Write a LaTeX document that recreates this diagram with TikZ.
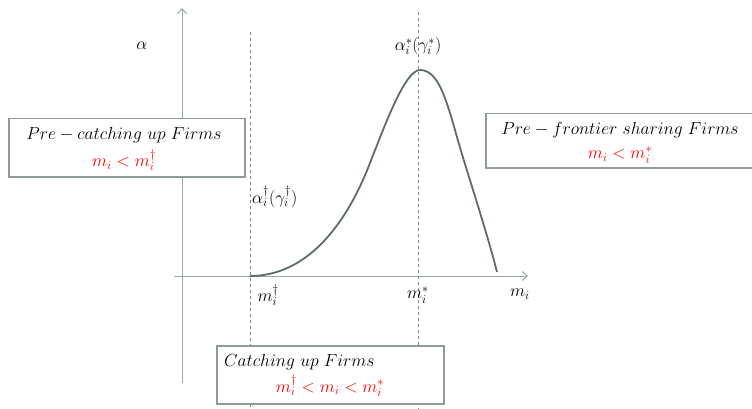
\RequirePackage{fix-cm}
\documentclass[tikz,border=0pt]{standalone}
\usetikzlibrary{arrows.meta}
\definecolor{axisc}{HTML}{9BAAA0}
\definecolor{curvec}{HTML}{5E6E64}
\definecolor{boxc}{HTML}{8E9C92}
\definecolor{redc}{HTML}{FF0000}
\begin{document}
\begin{tikzpicture}[x=1pt,y=-1pt,
  axisline/.style={draw=axisc,line width=1pt},
  guide/.style={draw=curvec!80,line width=0.6pt,dash pattern=on 3pt off 3pt},
  infobox/.style={draw=boxc,line width=1.5pt,fill=white,inner sep=0pt},
  lbl/.style={font=\fontsize{17.5}{20}\selectfont,inner sep=0pt}]
\useasboundingbox (0,0) rectangle (752,409);
% axes
\coordinate (yb) at (182,383);
\coordinate (yt) at (182,8);
\coordinate (xl) at (174,276);
\coordinate (xr) at (528,276);
\draw[axisline,-{Straight Barb[length=5pt,width=9pt]}] (yb) -- (yt);
\draw[axisline,-{Straight Barb[length=5pt,width=9pt]}] (xl) -- (xr);
% dashed guides
\coordinate (d1t) at (250,32);
\coordinate (d1b) at (250,409);
\coordinate (d2t) at (418,12);
\coordinate (d2b) at (418,409);
\draw[guide] (d1t) -- (d1b);
\draw[guide] (d2t) -- (d2b);
% curve
\coordinate (c0) at (250,276);
\coordinate (cp) at (420,70);
\coordinate (c1) at (497,272);
\draw[draw=curvec,line width=1.8pt,line join=round]
  (c0) .. controls (305,276) and (345,228) .. (370,163)
  .. controls (385,125) and (405,70) .. (cp)
  .. controls (437,70) and (445,95) .. (455,130)
  .. controls (466,170) and (485,225) .. (c1);
% labels
\node[lbl] (la) at (142,46) {$\alpha$};
\node[lbl] (lstar) at (418,46) {$\alpha_i^*(\gamma_i^*)$};
\node[lbl,anchor=west] (ldag) at (252,197) {$\alpha_i^\dagger(\gamma_i^\dagger)$};
\node[lbl] (mdag) at (268,295) {$m_i^\dagger$};
\node[lbl] (mstar) at (418,295) {$m_i^*$};
\node[lbl] (mi) at (520,294) {$m_i$};
% boxes
\node[infobox,minimum width=236pt,minimum height=58pt,anchor=north west] (b1) at (8,118) {};
\node[lbl] (b1t) at (124,135) {$Pre-catching\ up\ Firms$};
\node[lbl,text=redc] (b1r) at (124,160) {$m_i<m_i^\dagger$};
\node[infobox,minimum width=280pt,minimum height=54pt,anchor=north west] (b2) at (485,113) {};
\node[lbl] (b2t) at (620,130) {$Pre-frontier\ sharing\ Firms$};
\node[lbl,text=redc] (b2r) at (620,155) {$m_i<m_i^*$};
\node[infobox,minimum width=227pt,minimum height=58pt,anchor=north west] (b3) at (216,345) {};
\node[lbl,anchor=west] (b3t) at (224,362) {$Catching\ up\ Firms$};
\node[lbl,text=redc] (b3r) at (330,386) {$m_i^\dagger<m_i<m_i^*$};
\end{tikzpicture}
\end{document}
